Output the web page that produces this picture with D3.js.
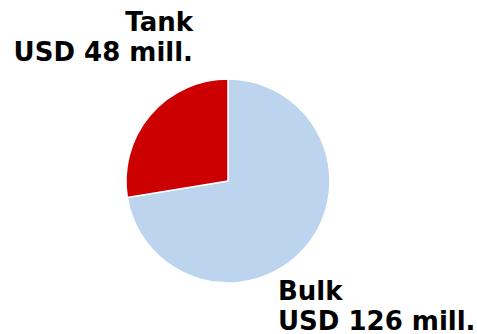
<!DOCTYPE html>
<html>
<head>
<meta charset="utf-8">
<script src="https://cdn.jsdelivr.net/npm/d3@7"></script>
<style>
  html, body { margin: 0; padding: 0; background: #fff; }
  svg { display: block; }
  text { font-family: "DejaVu Sans", Verdana, sans-serif; font-weight: bold; fill: #000; }
</style>
</head>
<body>
<svg id="chart" width="477" height="334"></svg>
<script>
// Segment names, values (USD million) and colours
const segments = ["Bulk", "Tank"];
const values = [126, 48];
const colors = ["#BDD4EE", "#CC0000"];
const labelLines = [
  ["Bulk", "USD 126 mill."],
  ["Tank", "USD 48 mill."]
];

const width = 477, height = 334;
const cx = 228, cy = 181, radius = 102;

const svg = d3.select("#chart");

const pie = d3.pie().sort(null).value(d => d.value);
const data = segments.map((s, i) => ({ name: s, value: values[i], color: colors[i] }));
const arcs = pie(data);
const arc = d3.arc().innerRadius(0).outerRadius(radius);

const g = svg.append("g").attr("transform", `translate(${cx},${cy})`);
g.selectAll("path")
  .data(arcs)
  .join("path")
  .attr("d", arc)
  .attr("fill", d => d.data.color)
  .attr("stroke", "#fff")
  .attr("stroke-width", 1.5)
  .attr("stroke-linejoin", "round");

// Labels: Bulk left-aligned below right, Tank right-aligned above left
const fontSize = 26;
const lineGap = 30;
const labelPos = [
  { x: 278, y: 300, anchor: "start" },
  { x: 193, y: 31, anchor: "end" }
];
labelLines.forEach((lines, i) => {
  const t = svg.append("text")
    .attr("x", labelPos[i].x)
    .attr("y", labelPos[i].y)
    .attr("text-anchor", labelPos[i].anchor)
    .style("font-size", fontSize + "px");
  lines.forEach((ln, j) => {
    t.append("tspan")
      .attr("x", labelPos[i].x)
      .attr("dy", j === 0 ? 0 : lineGap)
      .text(ln);
  });
});
</script>
</body>
</html>
